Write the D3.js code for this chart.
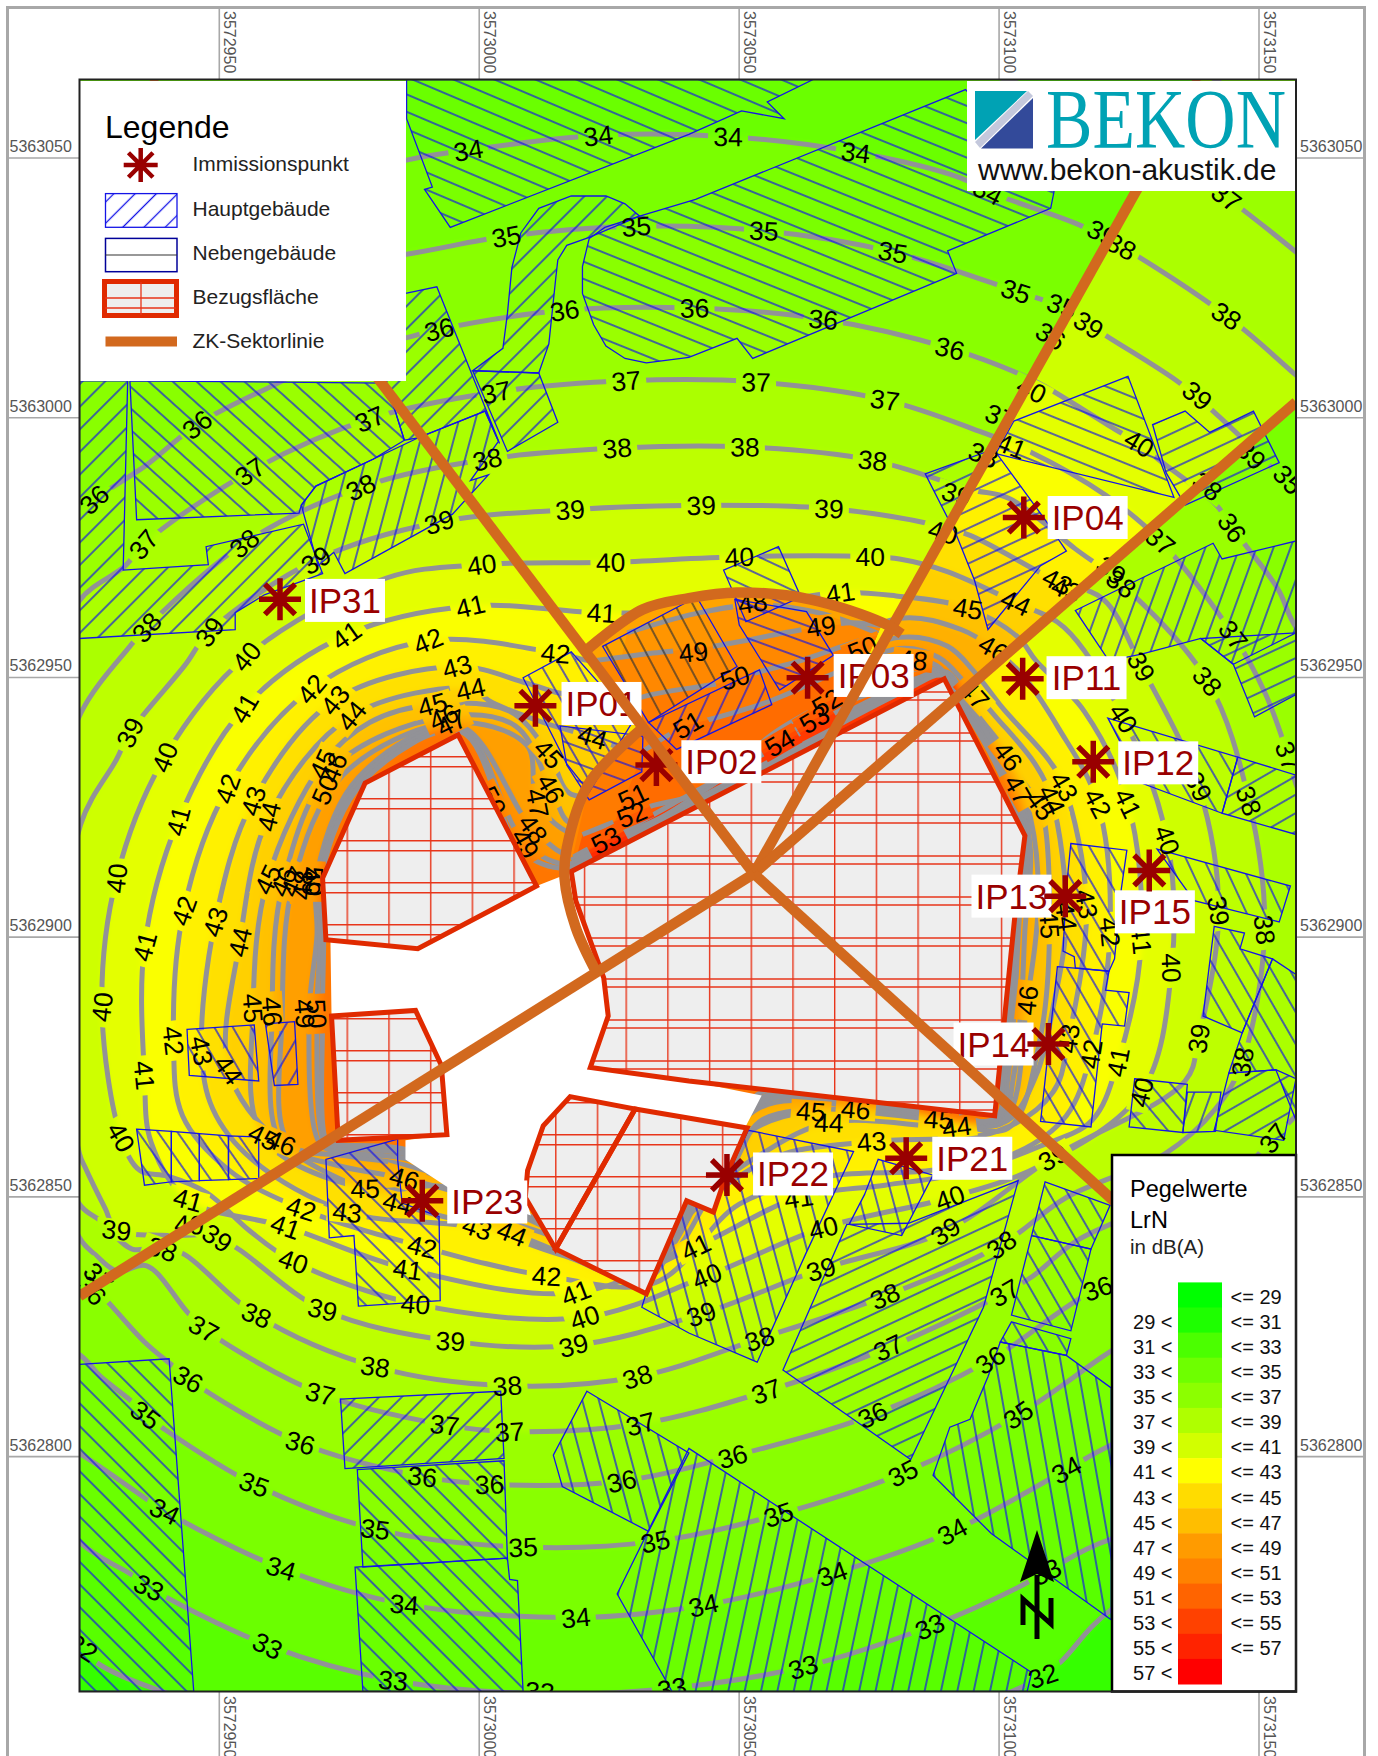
<!DOCTYPE html>
<html lang="de">
<head>
<meta charset="utf-8">
<title>Pegelwerte LrN</title>
<script src="https://cdn.jsdelivr.net/npm/d3@7"></script>
<style>
  html, body { margin: 0; padding: 0; background: #fff; }
  svg { display: block; }
  text { font-family: "Liberation Sans", Arial, sans-serif; }
</style>
</head>
<body>
<div id="chart"></div>
<script>
// All map geometry below is traced off the plan in sheet units; sheetX / sheetY put it on the page.
const eastTicks = [3572950, 3573000, 3573050, 3573100, 3573150];
const northTicks = [5363050, 5363000, 5362950, 5362900, 5362850, 5362800];

const rampColours = ['#00ff00', '#1eff00', '#4bff00', '#6eff00', '#8cff00', '#afff00', '#d2ff00', '#ffff00',
  '#ffdc00', '#ffbe00', '#ff9b00', '#ff8200', '#ff6400', '#ff4100', '#ff2300', '#ff0000'];
const rampLimits = [29, 31, 33, 35, 37, 39, 41, 43, 45, 47, 49, 51, 53, 55, 57];
const rampCentres = [28, 30, 32, 34, 36, 38, 40, 42, 44, 46, 48, 50, 52, 54, 56, 58];

// Isolines, one closed ring per level. Vertices outside the map close the ring and get clipped.
const ringLevels = [32, 33, 34, 35, 36, 37, 38, 39, 40, 41, 42, 43, 44, 45, 46, 47, 48, 49, 50];
const ring32 = [[145,1510],[350,1560],[600,1560],[800,1540],[931,1496],[992,1437],[1240,1300],[1300,300],[800,-60],[0,-60],[10,1430],[74,1471],[86,1484]];
const ring33 = [[850,60],[1020,120],[1095,176],[1157,225],[1220,280],[1260,900],[1200,1340],[992,1374],[934,1403],[913,1415],[830,1452],[717,1488],[600,1507],[482,1512],[351,1500],[240,1469],[133,1417],[118,1406],[72,1377],[20,1300],[20,100],[400,50]];
const ring34 = [[363,143],[418,134],[534,121],[650,122],[764,136],[858,159],[882,171],[964,201],[1001,220],[1095,282],[1157,335],[1230,400],[1240,800],[1220,1200],[992,1290],[952,1312],[850,1367],[743,1405],[628,1433],[514,1444],[361,1432],[251,1400],[147,1349],[129,1337],[72,1298],[20,1270],[20,200],[200,190]];
const ring35 = [[363,227],[452,211],[568,202],[682,206],[797,225],[907,260],[949,275],[988,300],[1052,341],[1083,367],[1141,423],[1157,440],[1230,520],[1250,900],[1100,1130],[983,1212],[909,1263],[806,1315],[695,1352],[585,1376],[467,1381],[335,1365],[227,1325],[147,1276],[130,1263],[114,1248],[90,1229],[72,1210],[20,1180],[20,300],[200,250]];
const ring36 = [[71,458],[84,446],[131,415],[176,379],[242,345],[300,318],[365,301],[392,294],[504,277],[620,275],[735,285],[848,311],[913,335],[933,345],[995,383],[1017,396],[1034,410],[1086,451],[1100,471],[1113,488],[1141,526],[1157,560],[1230,640],[1240,900],[1140,1090],[980,1150],[884,1214],[779,1263],[654,1300],[555,1322],[437,1325],[377,1318],[268,1288],[168,1231],[155,1220],[129,1198],[98,1164],[71,1135],[30,1100],[30,500]];
const ring37 = [[71,536],[112,505],[128,486],[223,421],[330,374],[443,350],[559,340],[675,341],[790,357],[877,386],[919,403],[987,442],[1036,483],[1101,567],[1130,620],[1150,675],[1157,700],[1200,800],[1190,950],[1137,1016],[1105,1045],[964,1106],[921,1140],[897,1154],[793,1203],[684,1242],[572,1271],[455,1278],[397,1272],[286,1244],[182,1186],[167,1171],[131,1130],[105,1135],[85,1120],[71,1105],[40,1000],[40,620]];
const ring38 = [[72,637],[116,577],[131,560],[218,485],[322,435],[435,410],[551,400],[665,399],[779,411],[866,437],[901,445],[960,490],[1001,521],[1078,608],[1115,715],[1129,830],[1109,948],[1085,990],[1040,1030],[952,1069],[894,1111],[790,1157],[678,1195],[569,1229],[453,1237],[335,1220],[229,1174],[165,1120],[145,1113],[118,1115],[90,1090],[71,1075],[50,1000],[50,720]];
const ring39 = [[72,736],[104,678],[116,654],[165,594],[187,564],[282,500],[392,466],[509,455],[626,451],[740,454],[832,468],[866,478],[944,519],[985,535],[1019,595],[1070,702],[1088,813],[1070,927],[1058,965],[940,1033],[844,1099],[733,1133],[626,1173],[512,1201],[402,1197],[288,1169],[194,1105],[150,1103],[104,1098],[94,1079],[76,1042],[71,1030],[55,900]];
const ring40 = [[91,899],[104,784],[147,676],[220,586],[345,516],[430,504],[545,502],[660,497],[777,497],[803,499],[845,510],[907,538],[950,560],[1003,641],[1042,750],[1046,864],[1019,975],[930,1040],[848,1069],[735,1096],[631,1139],[522,1176],[371,1164],[262,1126],[222,1098],[185,1065],[150,1050],[125,1045],[108,1015]];
const ring41 = [[129,845],[159,733],[218,632],[309,567],[420,541],[537,547],[640,545],[750,529],[800,532],[864,543],[909,569],[925,590],[968,635],[1007,717],[1019,839],[998,948],[975,1000],[929,1023],[860,1047],[790,1058],[713,1069],[621,1113],[514,1154],[364,1133],[255,1095],[168,1071],[135,1020],[129,960]];
const ring42 = [[164,813],[203,704],[278,615],[382,572],[496,583],[526,590],[600,600],[700,600],[803,552],[858,562],[887,579],[913,603],[945,650],[980,717],[991,832],[974,941],[952,996],[905,1030],[830,1045],[740,1050],[660,1075],[585,1145],[488,1139],[377,1113],[269,1079],[205,1045],[163,996],[155,929]];
const ring43 = [[192,823],[226,715],[299,625],[408,595],[471,610],[506,620],[600,620],[700,610],[803,569],[846,577],[870,600],[895,632],[936,678],[950,702],[970,807],[954,927],[940,975],[890,1010],[778,1019],[700,1030],[660,1050],[610,1090],[580,1140],[500,1120],[426,1096],[310,1082],[225,1035],[190,990],[180,938]];
const ring44 = [[214,841],[240,729],[314,639],[420,615],[439,627],[485,645],[529,658],[570,670],[700,625],[803,579],[838,587],[862,610],[890,641],[924,682],[939,714],[952,818],[940,900],[925,960],[900,1000],[854,1006],[740,1002],[680,1030],[640,1060],[600,1120],[560,1140],[500,1118],[457,1101],[355,1074],[250,1020],[204,955]];
const ring45 = [[239,785],[288,682],[330,645],[386,629],[455,635],[490,673],[510,709],[560,700],[700,640],[803,590],[836,594],[855,618],[885,655],[915,700],[929,719],[937,825],[928,930],[900,1007],[838,1000],[724,992],[670,1010],[640,1050],[610,1072],[575,1145],[496,1105],[440,1085],[400,1060],[326,1061],[235,1015],[226,900]];
const ring46 = [[253,787],[298,685],[396,640],[460,648],[492,704],[510,735],[560,710],[700,645],[803,600],[835,598],[850,612],[878,645],[900,675],[920,730],[927,800],[917,893],[895,1002],[838,996],[764,990],[680,1000],[650,1045],[615,1060],[572,1140],[496,1100],[440,1075],[361,1052],[300,1040],[251,1020],[243,903]];
const ring47 = [[262,787],[306,692],[403,645],[470,665],[480,717],[515,745],[560,720],[700,650],[805,610],[845,603],[870,640],[892,675],[909,705],[920,760],[915,830],[912,893],[905,960],[893,1001],[838,994],[764,987],[676,990],[575,1135],[492,1095],[440,1070],[361,1040],[310,1032],[258,1020],[252,905]];
const ring48 = [[283,780],[320,694],[410,648],[476,740],[515,765],[600,720],[805,612],[845,600],[862,625],[895,680],[917,745],[910,820],[906,893],[900,960],[891,1000],[838,992],[764,985],[678,985],[575,1135],[490,1085],[440,1065],[361,1034],[300,1028],[285,1020],[276,905],[283,835]];
const ring49 = [[286,778],[323,695],[411,651],[469,753],[512,772],[600,725],[805,615],[844,601],[858,625],[890,680],[915,745],[907,820],[903,893],[897,960],[890,999],[764,983],[680,980],[572,1130],[492,1082],[440,1062],[362,1030],[300,1024],[290,1020],[283,905],[286,838]];
const ring50 = [[288,778],[325,697],[411,653],[466,760],[510,775],[600,728],[805,618],[842,603],[856,625],[888,680],[913,745],[904,820],[900,893],[895,960],[889,998],[764,981],[680,975],[572,1128],[494,1080],[440,1058],[362,1026],[300,1022],[292,1020],[288,905],[289,838]];
const rings = [ring32, ring33, ring34, ring35, ring36, ring37, ring38, ring39, ring40, ring41, ring42, ring43, ring44, ring45, ring46, ring47, ring48, ring49, ring50];

// Sector between the two north-eastern rays reads 4 dB above its neighbours
const sectorOffset = 4;
const rayCentre = [673, 780];
const rayEnds = [[135, 71], [1070, 71], [1157, 359], [1157, 1220], [71, 1157]];
const sectorShape = [[673, 780], [1070, 71], [1157, 71], [1157, 359]];

// Zone under the arc north of the central area
const zoneShape = [[524,580],[574,544],[615,534],[658,529],[723,535],[788,556],[745,655],[510,778],[504,784],[506,757],[526,699],[577,647]];
const zoneLevels = [48, 49, 50, 51, 52, 53, 54, 55, 56];
const zoneLines = [
  [[560,565],[620,548],[674,540],[735,548],[790,568]],
  [[529,590],[583,583],[636,577],[717,562],[761,556],[795,560]],
  [[540,640],[571,623],[642,610],[662,604],[717,589],[761,574],[790,565]],
  [[575,670],[614,647],[631,643],[687,626],[745,601],[790,585]],
  [[520,745],[545,735],[564,727],[580,720],[616,711],[640,698],[690,655],[738,627],[790,600]],
  [[512,765],[541,750],[590,730],[680,670],[727,642],[790,612]],
  [[510,768],[600,718],[696,665],[770,622]],
  [[508,772],[600,725],[700,673],[790,627]],
  [[508,776],[600,729],[700,677],[790,631]]
];
const zoneUnderside = [[800, 900], [480, 900]];
const arcUpper = [[524,580],[574,544],[615,534],[658,529],[723,535],[788,556],[805,566]];
const arcLower = [[577,647],[526,699],[506,757],[504,784],[514,828],[533,869]];

// Isoline labels: value, x, y
const contourLabels = [
  [32,74,1471],[32,931,1496],
  [33,133,1417],[33,239,1469],[33,351,1500],[33,482,1510],[33,600,1507],[33,717,1488],[33,830,1452],[33,934,1403],
  [34,418,134],[34,534,121],[34,650,122],[34,764,136],[34,882,171],[34,147,1349],[34,251,1400],[34,361,1432],[34,514,1444],[34,628,1433],[34,743,1405],[34,850,1367],[34,952,1312],
  [35,452,211],[35,568,202],[35,682,206],[35,797,225],[35,907,260],[35,130,1263],[35,227,1325],[35,335,1365],[35,467,1381],[35,585,1376],[35,695,1352],[35,806,1315],[35,909,1263],[35,1150,428],[35,948,273],
  [36,84,446],[36,176,379],[36,392,294],[36,504,277],[36,620,275],[36,735,285],[36,848,311],[36,1100,471],[36,168,1231],[36,268,1288],[36,377,1318],[36,437,1325],[36,555,1322],[36,654,1300],[36,779,1263],[36,884,1214],[36,980,1150],[36,938,300],[36,82,1152],
  [37,128,486],[37,223,421],[37,330,374],[37,443,350],[37,559,340],[37,675,341],[37,790,357],[37,1036,483],[37,1101,567],[37,1150,675],[37,1137,1016],[37,897,1154],[37,793,1203],[37,684,1242],[37,572,1271],[37,455,1278],[37,397,1272],[37,286,1244],[37,182,1186],[37,1095,176],[37,893,372],[37,88,1140],
  [38,131,560],[38,218,485],[38,322,435],[38,435,410],[38,551,400],[38,665,399],[38,779,411],[38,1001,521],[38,1078,608],[38,1115,715],[38,1129,830],[38,1109,948],[38,894,1111],[38,790,1157],[38,678,1195],[38,569,1229],[38,453,1237],[38,335,1220],[38,229,1174],[38,1001,220],[38,1095,282],[38,878,406],[38,1078,434],[38,145,1115],
  [39,116,654],[39,187,564],[39,282,500],[39,392,466],[39,509,455],[39,626,451],[39,740,454],[39,1019,595],[39,1070,702],[39,1088,813],[39,1070,927],[39,940,1033],[39,844,1099],[39,733,1133],[39,626,1173],[39,512,1201],[39,402,1197],[39,288,1169],[39,194,1105],[39,104,1098],[39,972,290],[39,1069,353],[39,984,208],[39,854,441],[39,1117,406],[39,992,509],
  [40,104,784],[40,147,676],[40,220,586],[40,430,504],[40,545,502],[40,660,497],[40,777,497],[40,1003,641],[40,1042,750],[40,1046,864],[40,1019,975],[40,848,1069],[40,735,1096],[40,631,1139],[40,522,1176],[40,371,1164],[40,262,1126],[40,108,1015],[40,91,899],[40,1017,396],[40,169,1093],[40,921,348],[40,842,475],
  [41,420,541],[41,537,547],[41,750,529],[41,309,567],[41,218,632],[41,159,733],[41,129,845],[41,129,960],[41,168,1071],[41,255,1095],[41,364,1133],[41,514,1154],[41,621,1113],[41,713,1069],[41,998,948],[41,1007,717],[41,1019,839],[41,903,398],
  [42,382,572],[42,496,583],[42,278,615],[42,203,704],[42,164,813],[42,155,929],[42,269,1079],[42,377,1113],[42,488,1139],[42,980,717],[42,991,832],[42,974,941],
  [43,408,595],[43,299,625],[43,226,715],[43,192,823],[43,180,938],[43,310,1082],[43,426,1096],[43,950,702],[43,970,807],[43,954,927],[43,778,1019],[43,944,519],[43,952,526],
  [44,420,615],[44,314,639],[44,240,729],[44,214,841],[44,204,955],[44,355,1074],[44,457,1101],[44,529,658],[44,939,714],[44,952,818],[44,740,1002],[44,854,1006],[44,907,538],
  [45,386,629],[45,288,682],[45,239,785],[45,226,900],[45,235,1015],[45,326,1061],[45,490,673],[45,929,719],[45,937,825],[45,724,992],[45,838,999],[45,864,543],
  [46,396,640],[46,298,685],[46,253,787],[46,243,903],[46,251,1020],[46,361,1052],[46,492,704],[46,900,675],[46,917,893],[46,764,990],[46,887,579],
  [47,403,645],[47,480,717],[47,909,705],[47,262,787],[47,870,620],
  [48,476,740],[48,815,589],[48,672,538],[48,270,790],
  [49,469,753],[49,619,582],[49,733,559],[49,272,905],[49,278,787],
  [50,656,605],[50,770,579],[50,290,705],[50,281,787],[50,283,905],[50,440,715],
  [51,614,647],[51,565,711],
  [52,564,727],[52,738,627],
  [53,541,750],[53,727,642],
  [54,696,663]
];

// Buildings: outline and hatch angle, same order
const mainBuildings = [
  [[363,71],[363,106],[386,167],[379,169],[402,203],[615,120],[662,99],[700,106],[685,91],[726,71]],
  [[571,193],[540,203],[526,213],[520,238],[520,262],[530,290],[541,309],[558,320],[577,324],[615,319],[658,302],[672,320],[854,244],[846,224],[938,186],[941,171],[862,80],[621,178]],
  [[510,175],[541,175],[558,182],[571,193],[526,212],[506,219],[498,232],[496,250],[490,307],[481,333],[422,331],[449,311],[453,280],[457,239],[465,208],[481,186]],
  [[362,262],[390,256],[446,396],[433,367],[373,391],[361,393],[345,342]],
  [[422,331],[481,333],[498,377],[453,403]],
  [[269,451],[282,434],[333,410],[373,391],[433,367],[445,394],[420,429],[436,424],[404,459],[308,512],[298,493],[284,505]],
  [[116,340],[122,464],[267,458],[269,451],[282,434],[333,410],[361,393],[345,342]],
  [[71,340],[114,340],[110,509],[186,504],[184,488],[271,468],[288,512],[236,531],[210,547],[210,562],[71,570]],
  [[905,376],[1007,336],[1048,444],[889,405]],
  [[826,423],[887,401],[933,464],[952,492],[929,505],[882,562],[870,518],[854,478]],
  [[1029,379],[1058,367],[1080,386],[1119,367],[1142,413],[1058,451],[1041,422]],
  [[960,545],[1083,485],[1091,499],[1157,483],[1157,565],[1101,593],[1072,570],[1019,584],[990,590]],
  [[1072,570],[1101,593],[1120,640],[1157,620],[1157,565]],
  [[989,641],[1105,676],[1091,726],[1019,699]],
  [[1105,676],[1157,692],[1157,745],[1091,726]],
  [[956,753],[1006,759],[1001,794],[995,856],[990,867],[960,864],[959,854],[949,849],[952,793]],
  [[944,863],[990,867],[987,884],[1008,886],[1004,916],[984,914],[974,1006],[929,1001]],
  [[1033,758],[1152,791],[1142,823],[1066,804]],
  [[1084,827],[1111,833],[1107,847],[1136,856],[1109,922],[1074,907]],
  [[1136,856],[1157,870],[1157,1000],[1139,955],[1097,958],[1109,922]],
  [[1097,958],[1139,955],[1157,963],[1146,1018],[1084,1009]],
  [[1013,963],[1060,968],[1056,1011],[1008,1006]],
  [[1060,975],[1090,975],[1085,1010],[1056,1011]],
  [[933,1055],[991,1076],[974,1115],[921,1103]],
  [[921,1103],[974,1115],[956,1188],[903,1174]],
  [[903,1180],[956,1195],[952,1210],[893,1198]],
  [[893,1198],[952,1210],[992,1239],[992,1446],[885,1369],[833,1317],[848,1274],[866,1267],[882,1229]],
  [[615,1293],[921,1493],[917,1510],[600,1510],[551,1423]],
  [[524,1242],[615,1297],[579,1367],[502,1327],[494,1299]],
  [[699,1223],[813,1303],[878,1167],[909,1054],[811,1092],[756,1093]],
  [[577,1154],[612,1072],[636,1082],[650,1048],[668,1009],[762,1028],[719,1120],[676,1216],[615,1190],[573,1167]],
  [[772,1066],[784,1035],[833,1049],[805,1103],[758,1093]],
  [[167,919],[227,915],[231,965],[169,960]],
  [[237,914],[263,912],[266,968],[245,969]],
  [[122,1008],[153,1010],[153,1055],[129,1058]],
  [[153,1010],[178,1012],[178,1054],[153,1055]],
  [[178,1012],[204,1014],[204,1053],[178,1054]],
  [[204,1014],[231,1015],[231,1052],[204,1053]],
  [[291,1035],[355,1017],[355,1035],[359,1074],[392,1086],[393,1161],[320,1166],[316,1103],[294,1105]],
  [[71,1218],[151,1213],[173,1510],[71,1510]],
  [[304,1249],[447,1242],[450,1302],[308,1311]],
  [[319,1312],[450,1304],[453,1391],[324,1399]],
  [[317,1399],[453,1391],[455,1410],[462,1411],[467,1510],[324,1510]],
  [[467,605],[510,582],[565,644],[526,707],[506,682]],
  [[646,509],[695,488],[715,533],[666,555]],
  [[656,535],[720,546],[744,585],[696,616],[660,558]],
  [[579,645],[678,598],[689,629],[604,669]],
  [[500,648],[574,657],[573,689],[526,714],[506,683]]
];
const mainHatch = [23, 22, -45, -45, -45, -75, 42, -45, 22, -25, -25, -70, -25, 60, -30, 60, 60, 65, 60, 60, -30, 50, -70, 60, 60, 60, 80, -78, 75, -25, 75, 75, 60, -60, 55, 55, 55, 55, 45, 45, -45, 45, 45, 60, 25, 20, -65, 20];

const secondaryBuildings = [
  [[538,577],[622,533],[658,595],[579,645]]
];
const secondaryHatch = [62];

// Assessment areas and the plain area between them
const assessmentAreas = [
  [[409,656],[479,791],[373,847],[291,839],[288,784],[326,699]],
  [[296,907],[371,902],[394,951],[399,1013],[302,1018]],
  [[843,606],[915,746],[906,818],[897,907],[888,996],[615,965],[527,953],[543,907],[539,873],[514,804],[510,778]],
  [[509,979],[567,990],[496,1115],[469,1069],[471,1045],[485,1005]],
  [[567,990],[667,1007],[648,1050],[637,1082],[613,1072],[577,1155],[496,1115]]
];
const plainArea = [[295,838],[373,847],[479,791],[512,778],[540,873],[543,907],[527,953],[615,965],[680,978],[665,1007],[567,990],[509,979],[485,1005],[471,1045],[469,1069],[474,1085],[430,1070],[400,1060],[362,1035],[362,1018],[399,1013],[394,951],[371,902],[296,907]];

// Immission points: name, marker position, label centre
const pointNames = ['IP31', 'IP01', 'IP02', 'IP03', 'IP04', 'IP11', 'IP12', 'IP13', 'IP14', 'IP15', 'IP21', 'IP22', 'IP23'];
const pointMarkers = [[250,535],[478,630],[586,683],[721,605],[914,462],[913,606],[976,680],[951,800],[936,932],[1026,777],[809,1034],[649,1049],[377,1072]];
const pointLabels = [[308,536],[537,628],[644,680],[780,603],[971,462],[970,605],[1034,681],[903,800],[887,932],[1031,814],[868,1034],[708,1048],[435,1073]];

const width = 1378;
const height = 1756;
const map = { x0: 79.5, x1: 1296, y0: 79.5, y1: 1691.5 };

const sheetX = d3.scaleLinear().domain([71, 1157]).range([map.x0, map.x1]);
const sheetY = d3.scaleLinear().domain([71, 1510]).range([map.y0, map.y1]);
const eastScale = d3.scaleLinear().domain([3572950, 3573150]).range([219.3, 1259]);
const northScale = d3.scaleLinear().domain([5363050, 5362800]).range([158, 1456.6]);
const levelColour = d3.scaleLinear().domain(rampCentres).range(rampColours).clamp(true);
const bandShift = 0.8; // a ring's inside colour sits a little above its own level

const svg = d3.select('#chart').append('svg').attr('width', width).attr('height', height);
const defs = svg.append('defs');

const closedLine = d3.line().x(d => sheetX(d[0])).y(d => sheetY(d[1])).curve(d3.curveCatmullRomClosed.alpha(0.5));
const openLine = d3.line().x(d => sheetX(d[0])).y(d => sheetY(d[1])).curve(d3.curveCatmullRom.alpha(0.5));
const straightLine = d3.line().x(d => sheetX(d[0])).y(d => sheetY(d[1]));
const polygonPath = pts => straightLine(pts) + 'Z';

// ---- defs
defs.append('clipPath').attr('id', 'map-clip').append('rect')
  .attr('x', map.x0).attr('y', map.y0).attr('width', map.x1 - map.x0).attr('height', map.y1 - map.y0);
defs.append('clipPath').attr('id', 'sector-clip').append('path').attr('d', polygonPath(sectorShape));
defs.append('clipPath').attr('id', 'zone-clip').append('path').attr('d', polygonPath(zoneShape));

const blur = defs.append('filter').attr('id', 'soft').attr('filterUnits', 'userSpaceOnUse')
  .attr('x', -100).attr('y', -100).attr('width', width + 200).attr('height', height + 200);
blur.append('feGaussianBlur').attr('stdDeviation', 3);

let hatchCount = 0;
function hatchFill(angle, gap, colour) {
  const id = `hatch-${hatchCount++}`;
  const pattern = defs.append('pattern').attr('id', id)
    .attr('patternUnits', 'userSpaceOnUse')
    .attr('width', gap).attr('height', gap)
    .attr('patternTransform', `rotate(${angle})`);
  pattern.append('line')
    .attr('x1', 0).attr('x2', gap).attr('y1', gap / 2).attr('y2', gap / 2)
    .attr('stroke', colour).attr('stroke-width', 1.3);
  return `url(#${id})`;
}

function gridFill(id, xLine, yLine, doubleGap, rowHeight) {
  const pattern = defs.append('pattern').attr('id', id)
    .attr('patternUnits', 'userSpaceOnUse').attr('width', 41.7).attr('height', rowHeight);
  pattern.append('path')
    .attr('d', `M${xLine},0V${rowHeight}M0,${yLine}H41.7M0,${(yLine + doubleGap) % rowHeight}H41.7`)
    .attr('stroke', '#e8351a').attr('stroke-width', 1.4).attr('fill', 'none');
  return `url(#${id})`;
}
const gridA = gridFill('grid-a', 13.7, 0.7, 10, 42);
const gridB = gridFill('grid-b', 0.7, 36, 8, 41);

// ---- frame and grid ticks
const sheetFrame = svg.append('g');
sheetFrame.append('rect').attr('x', 7.5).attr('y', 7.5).attr('width', 1357).attr('height', 1790)
  .attr('fill', 'none').attr('stroke', '#a8a8a8').attr('stroke-width', 3);

eastTicks.forEach(t => {
  const x = eastScale(t);
  sheetFrame.append('path').attr('d', `M${x},8V${map.y0}M${x},${map.y1}V${height}`)
    .attr('stroke', '#a8a8a8').attr('stroke-width', 1.6);
  [11, 1696].forEach(y => {
    sheetFrame.append('text').attr('transform', `translate(${x + 5},${y}) rotate(90)`)
      .attr('font-size', 16).attr('fill', '#555').text(t);
  });
});
northTicks.forEach(t => {
  const y = northScale(t);
  sheetFrame.append('path').attr('d', `M8,${y}H${map.x0}M${map.x1},${y}H1364`)
    .attr('stroke', '#a8a8a8').attr('stroke-width', 1.6);
  [9.5, 1300].forEach(x => {
    sheetFrame.append('text').attr('x', x).attr('y', y - 6)
      .attr('font-size', 16).attr('fill', '#555').text(t);
  });
});

// ---- map
const mapLayer = svg.append('g').attr('clip-path', 'url(#map-clip)');

function drawBands(parent, offset) {
  const g = parent.append('g').attr('filter', 'url(#soft)');
  g.append('rect').attr('x', -50).attr('y', -50).attr('width', width + 100).attr('height', height + 100)
    .attr('fill', levelColour(31 + offset));
  g.selectAll('path').data(rings).join('path')
    .attr('d', closedLine)
    .attr('fill', (d, i) => levelColour(ringLevels[i] + bandShift + offset));
}
drawBands(mapLayer, 0);
drawBands(mapLayer.append('g').attr('clip-path', 'url(#sector-clip)'), sectorOffset);

// Zone: sharp bands, closed underneath by the central area
const zoneLayer = mapLayer.append('g').attr('clip-path', 'url(#zone-clip)');
zoneLayer.append('path').attr('d', polygonPath(zoneShape)).attr('fill', levelColour(47.5));
zoneLayer.selectAll('path.band').data(zoneLines).join('path').attr('class', 'band')
  .attr('d', d => straightLine(d.concat(zoneUnderside)) + 'Z')
  .attr('fill', (d, i) => levelColour(zoneLevels[i] + 0.5));

// Label angle follows the nearest isoline segment
const allSegments = [];
rings.forEach(r => r.forEach((p, i) => allSegments.push([p, r[(i + 1) % r.length]])));
zoneLines.forEach(l => l.slice(1).forEach((p, i) => allSegments.push([l[i], p])));

function labelAngle(x, y) {
  const nearest = d3.least(allSegments, ([a, b]) => {
    const dx = b[0] - a[0], dy = b[1] - a[1];
    const t = Math.max(0, Math.min(1, ((x - a[0]) * dx + (y - a[1]) * dy) / (dx * dx + dy * dy)));
    return Math.hypot(x - a[0] - t * dx, y - a[1] - t * dy);
  });
  let angle = Math.atan2(nearest[1][1] - nearest[0][1], nearest[1][0] - nearest[0][0]) * 180 / Math.PI;
  if (angle > 90) angle -= 180;
  if (angle <= -90) angle += 180;
  return angle;
}
const labelTransform = d => `translate(${sheetX(d[1])},${sheetY(d[2])}) rotate(${labelAngle(d[1], d[2])})`;

// Gaps in the lines at the labels, and nothing of the rings inside the zone
function addGaps(mask) {
  mask.selectAll('rect.gap').data(contourLabels).join('rect').attr('class', 'gap')
    .attr('x', -20).attr('y', -11).attr('width', 40).attr('height', 22).attr('fill', '#000')
    .attr('transform', labelTransform);
}
const lineMask = defs.append('mask').attr('id', 'line-mask').attr('maskUnits', 'userSpaceOnUse')
  .attr('x', 0).attr('y', 0).attr('width', width).attr('height', height);
lineMask.append('rect').attr('width', width).attr('height', height).attr('fill', '#fff');
lineMask.append('path').attr('d', polygonPath(zoneShape)).attr('fill', '#000');
addGaps(lineMask);

const zoneLineMask = defs.append('mask').attr('id', 'zone-line-mask').attr('maskUnits', 'userSpaceOnUse')
  .attr('x', 0).attr('y', 0).attr('width', width).attr('height', height);
zoneLineMask.append('rect').attr('width', width).attr('height', height).attr('fill', '#fff');
addGaps(zoneLineMask);

const lineColour = '#929297';
const lineWidth = 5;
mapLayer.append('g').attr('mask', 'url(#line-mask)')
  .selectAll('path').data(rings).join('path')
  .attr('d', closedLine).attr('fill', 'none').attr('stroke', lineColour).attr('stroke-width', lineWidth);
mapLayer.append('g').attr('clip-path', 'url(#zone-clip)')
  .append('g').attr('mask', 'url(#zone-line-mask)')
  .selectAll('path').data(zoneLines).join('path')
  .attr('d', openLine).attr('fill', 'none').attr('stroke', lineColour).attr('stroke-width', lineWidth);

// Buildings
const buildingBlue = '#1414e6';
mapLayer.append('g').selectAll('path').data(mainBuildings).join('path')
  .attr('d', polygonPath)
  .attr('fill', (d, i) => hatchFill(mainHatch[i], 16, buildingBlue))
  .attr('stroke', buildingBlue).attr('stroke-width', 1.3);
mapLayer.append('g').selectAll('path').data(secondaryBuildings).join('path')
  .attr('d', polygonPath)
  .attr('fill', (d, i) => hatchFill(secondaryHatch[i], 16, '#333'))
  .attr('stroke', buildingBlue).attr('stroke-width', 1.3);

// Isoline labels
mapLayer.append('g').selectAll('text').data(contourLabels).join('text')
  .attr('transform', labelTransform)
  .attr('text-anchor', 'middle').attr('dy', '0.36em')
  .attr('font-size', 26.5).attr('fill', '#000')
  .text(d => d[0]);

// Plain area and assessment areas
mapLayer.append('path').attr('d', polygonPath(plainArea)).attr('fill', '#fff');
mapLayer.append('g').selectAll('path.fill').data(assessmentAreas).join('path').attr('class', 'fill')
  .attr('d', polygonPath).attr('fill', '#eee');
mapLayer.append('g').selectAll('path.grid').data(assessmentAreas).join('path').attr('class', 'grid')
  .attr('d', polygonPath)
  .attr('fill', (d, i) => (i === 2 ? gridB : gridA))
  .attr('stroke', '#e02a00').attr('stroke-width', 5).attr('stroke-linejoin', 'miter');

// Immission points: label box first, then the star
const markerColour = '#990000';
function drawStar(parent, x, y, r, strokeWidth) {
  const k = r * 0.72;
  parent.append('path')
    .attr('d', `M${x - r},${y}H${x + r}M${x},${y - r}V${y + r}M${x - k},${y - k}L${x + k},${y + k}M${x - k},${y + k}L${x + k},${y - k}`)
    .attr('stroke', markerColour).attr('stroke-width', strokeWidth).attr('fill', 'none');
}
const pointLayer = mapLayer.append('g');
pointNames.forEach((name, i) => {
  const cx = sheetX(pointLabels[i][0]);
  const cy = sheetY(pointLabels[i][1]);
  pointLayer.append('rect').attr('x', cx - 40).attr('y', cy - 21.5).attr('width', 80).attr('height', 43).attr('fill', '#fff');
  pointLayer.append('text').attr('x', cx).attr('y', cy + 12.5).attr('text-anchor', 'middle')
    .attr('font-size', 35).attr('fill', markerColour).text(name);
  drawStar(pointLayer, sheetX(pointMarkers[i][0]), sheetY(pointMarkers[i][1]), 21, 5.5);
});

// Sector lines and arc
const sectorColour = '#d2691e';
const sectorLayer = mapLayer.append('g').attr('fill', 'none').attr('stroke', sectorColour).attr('stroke-width', 10.5);
rayEnds.forEach(end => sectorLayer.append('path').attr('d', straightLine([rayCentre, end])));
sectorLayer.append('path').attr('d', openLine(arcUpper));
sectorLayer.append('path').attr('d', openLine(arcLower));

// North arrow
const north = svg.append('g').attr('transform', 'translate(1037,0)');
north.append('path').attr('d', 'M0,1530L17,1582L0,1574L-17,1582Z').attr('fill', '#000');
north.append('path').attr('d', 'M0,1575V1639').attr('stroke', '#000').attr('stroke-width', 5);
north.append('path').attr('d', 'M-14,1625V1599L14,1624V1598').attr('stroke', '#000').attr('stroke-width', 5).attr('fill', 'none');

// ---- symbol legend, top left
const legend = svg.append('g');
legend.append('rect').attr('x', map.x0).attr('y', 81).attr('width', 326.5).attr('height', 300).attr('fill', '#fff');
legend.append('text').attr('x', 105).attr('y', 138).attr('font-size', 32).attr('fill', '#000').text('Legende');

const legendItems = ['Immissionspunkt', 'Hauptgebäude', 'Nebengebäude', 'Bezugsfläche', 'ZK-Sektorlinie'];
const legendBaselines = [171, 216, 259.5, 303.5, 347.5];
legendItems.forEach((name, i) => {
  legend.append('text').attr('x', 192.5).attr('y', legendBaselines[i]).attr('font-size', 21).attr('fill', '#222').text(name);
});
drawStar(legend, 140.7, 165, 17, 4.5);
legend.append('rect').attr('x', 105.5).attr('y', 193.6).attr('width', 71.5).attr('height', 33.7)
  .attr('fill', hatchFill(-45, 15, buildingBlue)).attr('stroke', buildingBlue).attr('stroke-width', 1.3);
legend.append('rect').attr('x', 105.5).attr('y', 238.4).attr('width', 71.5).attr('height', 33.3)
  .attr('fill', '#fff').attr('stroke', '#000099').attr('stroke-width', 1.5);
legend.append('path').attr('d', 'M105.5,255H177').attr('stroke', '#333').attr('stroke-width', 1.2);
legend.append('rect').attr('x', 104.5).attr('y', 281.5).attr('width', 72).attr('height', 34)
  .attr('fill', '#eee').attr('stroke', '#e02a00').attr('stroke-width', 5);
legend.append('path').attr('d', 'M141,282V315M105,298H176M105,308H176').attr('stroke', '#e8351a').attr('stroke-width', 1.3);
legend.append('path').attr('d', 'M105.5,341.5H177').attr('stroke', sectorColour).attr('stroke-width', 10);

// ---- logo, top right
const logo = svg.append('g');
logo.append('rect').attr('x', 967).attr('y', 81).attr('width', 329).attr('height', 110).attr('fill', '#fff');
logo.append('path').attr('d', 'M975,91H1027L975,140Z').attr('fill', '#00a2b4');
logo.append('path').attr('d', 'M1033,98V148.5H981Z').attr('fill', '#334a9a');
logo.append('path').attr('d', 'M1028,91L1033,96L980,148L975,142Z').attr('fill', '#c4c8dc');
logo.append('text').attr('x', 1046).attr('y', 148).attr('textLength', 240).attr('lengthAdjust', 'spacingAndGlyphs')
  .style('font-family', '"Liberation Serif", serif').attr('font-size', 85).attr('fill', '#00a2b4').text('BEKON');
logo.append('text').attr('x', 978).attr('y', 180).attr('font-size', 30).attr('fill', '#111').text('www.bekon-akustik.de');

// ---- level legend, bottom right
const ramp = svg.append('g');
ramp.append('rect').attr('x', 1112).attr('y', 1155).attr('width', 184).attr('height', 536.5)
  .attr('fill', '#fff').attr('stroke', '#000').attr('stroke-width', 2.5);
ramp.append('text').attr('x', 1130).attr('y', 1197).attr('font-size', 23.5).attr('fill', '#000').text('Pegelwerte');
ramp.append('text').attr('x', 1130).attr('y', 1227.5).attr('font-size', 23.5).attr('fill', '#000').text('LrN');
ramp.append('text').attr('x', 1130).attr('y', 1254).attr('font-size', 20.5).attr('fill', '#222').text('in dB(A)');

const rampBand = d3.scaleBand().domain(d3.range(rampColours.length)).range([1282.4, 1684]);
ramp.selectAll('rect.cell').data(rampColours).join('rect').attr('class', 'cell')
  .attr('x', 1178).attr('width', 44)
  .attr('y', (d, i) => rampBand(i)).attr('height', rampBand.bandwidth() + 0.5)
  .attr('fill', d => d);
ramp.selectAll('text.upper').data(rampLimits).join('text').attr('class', 'upper')
  .attr('x', 1230.5).attr('y', (d, i) => rampBand(i) + 21.3)
  .attr('font-size', 20).attr('fill', '#111').text(d => `<= ${d}`);
ramp.selectAll('text.lower').data(rampLimits).join('text').attr('class', 'lower')
  .attr('x', 1172.5).attr('y', (d, i) => rampBand(i + 1) + 21.3).attr('text-anchor', 'end')
  .attr('font-size', 20).attr('fill', '#111').text(d => `${d} <`);

// map border goes on last
svg.append('rect').attr('x', map.x0).attr('y', map.y0).attr('width', map.x1 - map.x0).attr('height', map.y1 - map.y0)
  .attr('fill', 'none').attr('stroke', '#222').attr('stroke-width', 2);
</script>
</body>
</html>
